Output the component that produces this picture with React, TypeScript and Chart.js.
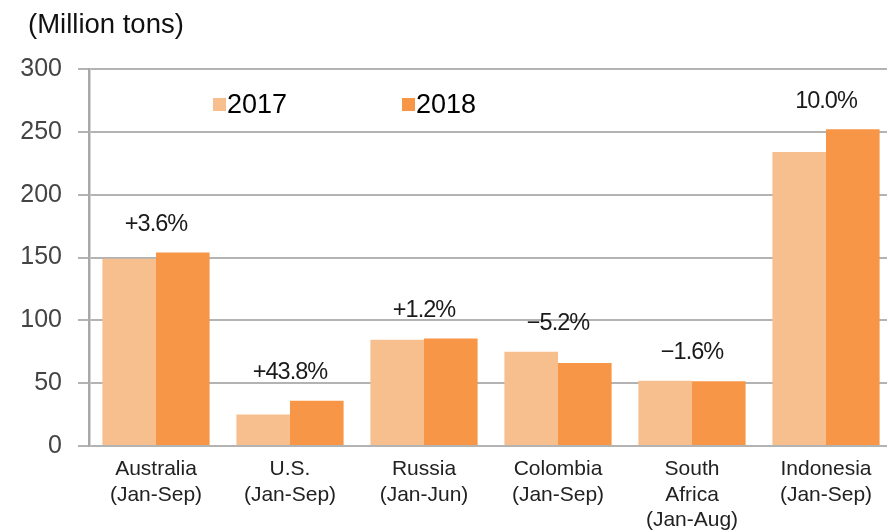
import React, { useEffect, useRef } from "react";
import { Chart, registerables } from "chart.js";

Chart.register(...registerables);

const categories: string[][] = [
  ["Australia", "(Jan-Sep)"],
  ["U.S.", "(Jan-Sep)"],
  ["Russia", "(Jan-Jun)"],
  ["Colombia", "(Jan-Sep)"],
  ["South", "Africa", "(Jan-Aug)"],
  ["Indonesia", "(Jan-Sep)"],
];
const series2017: number[] = [149, 25, 84.5, 75, 52, 234];
const series2018: number[] = [154, 36, 85.5, 66, 51.5, 252];
const changeLabels: string[] = ["+3.6%", "+43.8%", "+1.2%", "\u22125.2%", "\u22121.6%", "10.0%"];
const yTicks: number[] = [0, 50, 100, 150, 200, 250, 300];
const unitTitle = "(Million tons)";
const seriesNames: string[] = ["2017", "2018"];

const COLOR_2017 = "#F8BF8E";
const COLOR_2018 = "#F79646";

const overlayPlugin = {
  id: "overlay",
  afterDraw(chart: any) {
    const ctx = chart.ctx as CanvasRenderingContext2D;
    const x = chart.scales.x;
    const y = chart.scales.y;
    ctx.save();
    // title
    ctx.fillStyle = "#111";
    ctx.font = "27.5px 'Liberation Sans', Arial, sans-serif";
    ctx.textAlign = "left";
    ctx.textBaseline = "middle";
    ctx.fillText(unitTitle, 28, 25);
    // legend
    const legendItems = [
      { name: seriesNames[0], color: COLOR_2017, x: 213 },
      { name: seriesNames[1], color: COLOR_2018, x: 402 },
    ];
    ctx.font = "27px 'Liberation Sans', Arial, sans-serif";
    legendItems.forEach((it) => {
      ctx.fillStyle = it.color;
      ctx.fillRect(it.x, 98, 13, 13);
      ctx.fillStyle = "#000";
      ctx.fillText(it.name, it.x + 14, 106);
    });
    // change annotations
    ctx.font = "23.5px 'Liberation Sans', Arial, sans-serif";
    (ctx as any).letterSpacing = "-1px";
    ctx.fillStyle = "#1a1a1a";
    ctx.textAlign = "center";
    changeLabels.forEach((lab, i) => {
      const cx = x.getPixelForValue(i);
      const top = y.getPixelForValue(Math.max(series2017[i], series2018[i]));
      ctx.fillText(lab, cx, top - 28);
    });
    ctx.restore();
  },
};

export default function App() {
  const ref = useRef<HTMLCanvasElement | null>(null);
  useEffect(() => {
    if (!ref.current) return;
    const chart = new Chart(ref.current, {
      type: "bar",
      data: {
        labels: categories,
        datasets: [
          { label: seriesNames[0], data: series2017, backgroundColor: COLOR_2017 },
          { label: seriesNames[1], data: series2018, backgroundColor: COLOR_2018 },
        ],
      },
      options: {
        animation: false,
        responsive: false,
        devicePixelRatio: 1,
        layout: { padding: { top: 69, left: 0, right: 0, bottom: 0 } },
        plugins: {
          legend: { display: false },
          title: { display: false },
          tooltip: { enabled: false },
        },
        datasets: { bar: { categoryPercentage: 0.8, barPercentage: 1.0 } },
        scales: {
          x: {
            grid: { display: false, drawTicks: false },
            border: { display: false },
            ticks: {
              color: "#222",
              padding: 11,
              maxRotation: 0,
              autoSkip: false,
              font: { family: "'Liberation Sans', Arial, sans-serif", size: 21, lineHeight: 1.2 },
            },
            afterFit: (s: any) => {
              s.height = 86;
            },
          },
          y: {
            min: 0,
            max: 300,
            afterBuildTicks: (s: any) => {
              s.ticks = yTicks.map((v) => ({ value: v }));
            },
            grid: { color: "#b3b3b3", lineWidth: 2, tickLength: 11, drawTicks: true },
            border: { display: true, color: "#a8a8a8", width: 2.5 },
            ticks: {
              color: "#444",
              padding: 16,
              font: { family: "'Liberation Sans', Arial, sans-serif", size: 25 },
            },
            afterFit: (s: any) => {
              s.width = 89;
            },
          },
        },
      },
      plugins: [overlayPlugin],
    });
    return () => chart.destroy();
  }, []);
  return (
    <div style={{ position: "fixed", left: 0, top: 0, width: 887, height: 532, overflow: "hidden", background: "#fff" }}>
      <canvas ref={ref} width={893} height={532} style={{ display: "block" }} />
    </div>
  );
}
